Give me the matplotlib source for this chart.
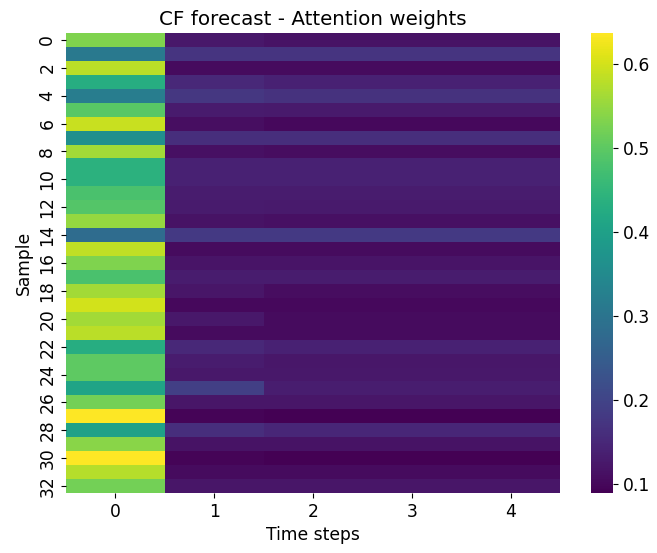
import numpy as np
import matplotlib
matplotlib.use("Agg")
import matplotlib.pyplot as plt
import seaborn as sns

time_steps = ["0", "1", "2", "3", "4"]
sample_labels = [str(i) for i in range(0, 33, 2)]

step0 = [0.53, 0.31, 0.58, 0.43, 0.32, 0.495, 0.59, 0.36, 0.56, 0.44, 0.44,
         0.48, 0.49, 0.55, 0.28, 0.585, 0.53, 0.48, 0.56, 0.60, 0.56, 0.58,
         0.43, 0.50, 0.50, 0.41, 0.52, 0.635, 0.40, 0.54, 0.637, 0.575, 0.52]
step1 = [0.125, 0.172, 0.105, 0.15, 0.175, 0.128, 0.11, 0.16, 0.112, 0.14, 0.14,
         0.13, 0.128, 0.115, 0.18, 0.104, 0.118, 0.13, 0.12, 0.10, 0.125, 0.105,
         0.15, 0.13, 0.125, 0.19, 0.12, 0.095, 0.16, 0.115, 0.095, 0.106, 0.12]
step2 = [0.115, 0.172, 0.105, 0.14, 0.168, 0.126, 0.10, 0.16, 0.108, 0.14, 0.14,
         0.13, 0.127, 0.112, 0.18, 0.104, 0.118, 0.13, 0.107, 0.10, 0.105, 0.105,
         0.14, 0.123, 0.125, 0.133, 0.12, 0.09, 0.147, 0.115, 0.089, 0.106, 0.12]
step3 = [0.115, 0.172, 0.105, 0.14, 0.168, 0.126, 0.10, 0.16, 0.108, 0.14, 0.14,
         0.13, 0.127, 0.112, 0.18, 0.104, 0.118, 0.13, 0.107, 0.10, 0.105, 0.105,
         0.14, 0.123, 0.125, 0.133, 0.12, 0.09, 0.147, 0.115, 0.089, 0.106, 0.12]
step4 = [0.115, 0.172, 0.105, 0.14, 0.168, 0.126, 0.10, 0.16, 0.108, 0.14, 0.14,
         0.13, 0.127, 0.112, 0.18, 0.104, 0.118, 0.13, 0.107, 0.10, 0.105, 0.105,
         0.14, 0.123, 0.125, 0.133, 0.12, 0.09, 0.147, 0.115, 0.089, 0.106, 0.12]

data = np.column_stack([step0, step1, step2, step3, step4])

fig = plt.figure(figsize=(6.57, 5.53), dpi=100)
W, H = 657, 553
ax = fig.add_axes([66 / W, 1 - 493 / H, (560 - 66) / W, (493 - 33) / H])
cax = fig.add_axes([591 / W, 1 - 493 / H, (613 - 591) / W, (493 - 33) / H])

sns.heatmap(data, ax=ax, cbar_ax=cax, cmap="viridis",
            xticklabels=time_steps, yticklabels=2)
fs = 12.3
ax.set_title("CF forecast - Attention weights", fontsize=14.3)
ax.set_xlabel("Time steps", fontsize=fs)
ax.set_ylabel("Sample", fontsize=fs)
ax.tick_params(axis="both", labelsize=fs)
ax.set_yticklabels(ax.get_yticklabels(), rotation=90, va="center")
cax.tick_params(labelsize=fs)

fig.savefig("out.png", dpi=100)
